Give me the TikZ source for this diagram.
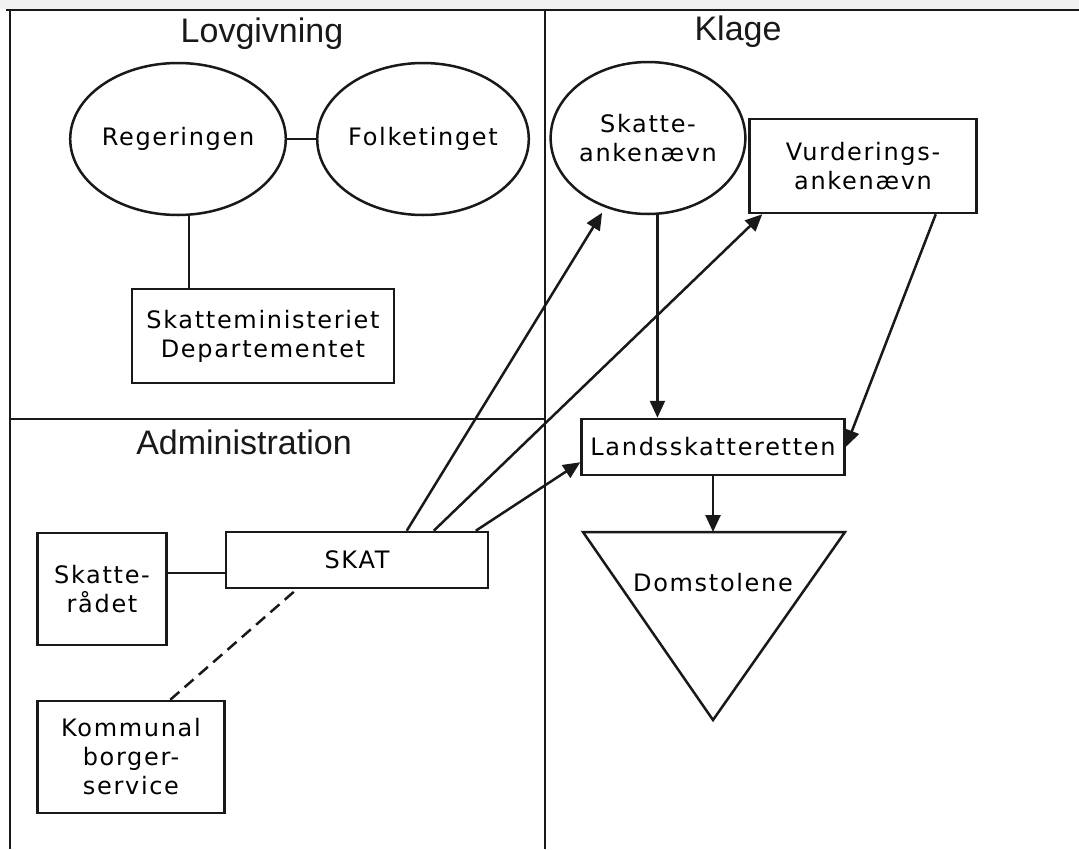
\documentclass[tikz,border=0pt]{standalone}
\usepackage{fontspec}
\setmainfont{DejaVu Sans}
\newfontfamily\nodefont[LetterSpace=7]{DejaVu Sans}
\newfontfamily\titlefont{Liberation Sans}
\newcommand{\ndtxt}{\nodefont\fontsize{24}{29}\selectfont}
\newcommand{\ttltxt}{\titlefont\fontsize{34}{38}\selectfont}
\usetikzlibrary{shapes.geometric,arrows.meta,calc}
\begin{document}
\begin{tikzpicture}[x=1pt,y=-1pt,
  ln/.style={line width=2.5pt, draw=black!90},
  circ/.style={ellipse, draw=black!90, line width=2.5pt, minimum width=170pt, minimum height=152pt, inner sep=0pt, align=center, font=\ndtxt},
  box/.style={rectangle, draw=black!90, line width=2.5pt, inner sep=0pt, align=center, font=\ndtxt},
  arr/.style={ln, -{Triangle[length=17pt,width=15pt]}},
  ttl/.style={font=\ttltxt, text=black!90},
  frame/.style={line width=2.5pt, draw=black!90}]
\useasboundingbox (0,0) rectangle (1079,849);
\fill[white] (0,0) rectangle (1079,849);
\fill[gray!12] (0,0) rectangle (1079,9);
% frame and dividers
\draw[frame] (6,10) -- (1079,10);
\draw[frame] (10,10) -- (10,849);
\draw[frame] (545,10) -- (545,849);
\draw[frame] (10,419) -- (545,419);
% titles
\node[ttl] (tlov) at (262,34) {Lovgivning};
\node[ttl] (tkla) at (738,32) {Klage};
\node[ttl] (tadm) at (244,442) {Administration};
% nodes
\node[circ] (reg) at (178,139) {Regeringen};
\node[circ] (folk) at (423,139) {Folketinget};
\node[circ] (ska) at (648,138) {Skatte-\\ankenævn};
\node[box, minimum width=262pt, minimum height=94pt] (skm) at (263,336) {Skatteministeriet\\Departementet};
\node[box, minimum width=227pt, minimum height=94pt] (vur) at (863,166) {Vurderings-\\ankenævn};
\node[box, minimum width=263pt, minimum height=56pt] (lsr) at (713,447) {Landsskatteretten};
\node[box, minimum width=262pt, minimum height=56pt] (skat) at (357,560) {SKAT};
\node[box, minimum width=129pt, minimum height=112pt] (sr) at (102,589) {Skatte-\\rådet};
\node[box, minimum width=187pt, minimum height=112pt] (kbs) at (131,757) {Kommunal\\borger-\\service};
% Domstolene triangle
\draw[ln, line join=miter] (583,532) -- (845,532) -- (713,720) -- cycle;
\coordinate (domtop) at (713,532);
\node[font=\ndtxt] (dom) at (713,583) {Domstolene};
% connectors
\draw[ln] (reg.east) -- (folk.west);
\draw[ln] (reg.-82) -- (reg.-82 |- skm.north);
\draw[arr] (ska.-83) -- (ska.-83 |- lsr.north);
\draw[arr] (lsr.south) -- (domtop);
\draw[arr] ($(vur.south east)+(-42,0)$) -- (lsr.east);
\draw[arr, shorten >=6pt] ($(skat.north west)+(182,0)$) -- (ska);
\draw[arr] ($(skat.north west)+(209,0)$) -- ($(vur.south west)+(14,0)$);
\draw[arr] ($(skat.north west)+(251,0)$) -- ($(lsr.south west)+(0,-14)$);
\coordinate (skw) at ($(skat.west)+(0,13)$);
\draw[ln] (skw -| sr.east) -- (skw);
\draw[ln, dash pattern=on 12pt off 7pt] ($(kbs.north west)+(134,0)$) -- ($(skat.south west)+(72,0)$);
\end{tikzpicture}
\end{document}
